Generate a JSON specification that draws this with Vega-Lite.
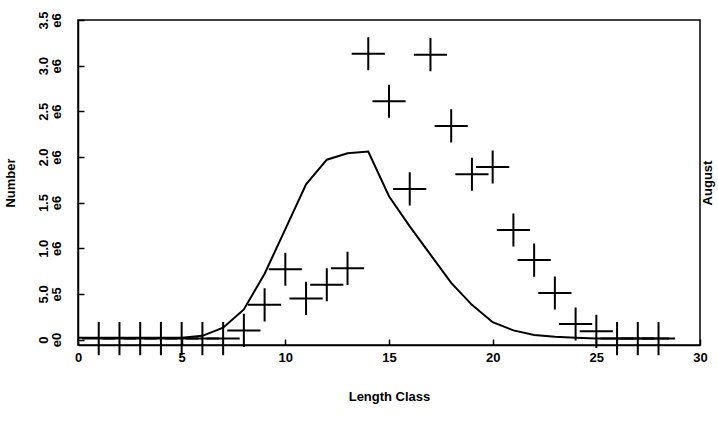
{
  "$schema": "https://vega.github.io/schema/vega-lite/v6.json",
  "width": 622,
  "height": 325,
  "autosize": {"type": "none"},
  "padding": {"left": 78, "top": 20, "right": 18, "bottom": 87},
  "background": "white",
  "config": {
    "view": {"stroke": "black", "strokeWidth": 1.5},
    "font": "Liberation Sans",
    "axis": {"grid": false, "domainColor": "black", "domainWidth": 1.5, "tickColor": "black", "tickWidth": 1.5, "labelColor": "black", "titleColor": "black", "labelFont": "Liberation Sans", "titleFont": "Liberation Sans", "labelFontWeight": "bold", "titleFontWeight": "bold"}
  },
  "datasets": {
    "obs": [
      {"x": 1, "y": 10000}, {"x": 2, "y": 10000}, {"x": 3, "y": 10000}, {"x": 4, "y": 10000},
      {"x": 5, "y": 10000}, {"x": 6, "y": 10000}, {"x": 7, "y": 10000},
      {"x": 8, "y": 100000}, {"x": 9, "y": 380000}, {"x": 10, "y": 770000}, {"x": 11, "y": 450000},
      {"x": 12, "y": 600000}, {"x": 13, "y": 780000}, {"x": 14, "y": 3130000}, {"x": 15, "y": 2610000},
      {"x": 16, "y": 1650000}, {"x": 17, "y": 3120000}, {"x": 18, "y": 2340000}, {"x": 19, "y": 1810000},
      {"x": 20, "y": 1890000}, {"x": 21, "y": 1200000}, {"x": 22, "y": 870000}, {"x": 23, "y": 510000},
      {"x": 24, "y": 170000}, {"x": 25, "y": 90000}, {"x": 26, "y": 10000}, {"x": 27, "y": 10000}, {"x": 28, "y": 10000}
    ],
    "curve": [
      {"x": 0, "y": 20000}, {"x": 1, "y": 20000}, {"x": 2, "y": 20000}, {"x": 3, "y": 20000},
      {"x": 4, "y": 20000}, {"x": 5, "y": 20000}, {"x": 6, "y": 40000}, {"x": 7, "y": 130000},
      {"x": 8, "y": 330000}, {"x": 9, "y": 720000}, {"x": 10, "y": 1210000}, {"x": 11, "y": 1700000},
      {"x": 12, "y": 1970000}, {"x": 13, "y": 2040000}, {"x": 14, "y": 2060000}, {"x": 15, "y": 1570000},
      {"x": 16, "y": 1240000}, {"x": 17, "y": 930000}, {"x": 18, "y": 620000}, {"x": 19, "y": 380000},
      {"x": 20, "y": 190000}, {"x": 21, "y": 100000}, {"x": 22, "y": 50000}, {"x": 23, "y": 30000},
      {"x": 24, "y": 20000}, {"x": 25, "y": 10000}, {"x": 26, "y": 10000}, {"x": 27, "y": 10000}, {"x": 28.5, "y": 10000}
    ]
  },
  "layer": [
    {
      "data": {"name": "curve"},
      "mark": {"type": "line", "color": "black", "strokeWidth": 2},
      "encoding": {
        "x": {"field": "x", "type": "quantitative", "scale": {"domain": [0, 30], "nice": false},
          "axis": {"title": "Length Class", "values": [0, 5, 10, 15, 20, 25, 30], "tickSize": -6, "labelPadding": 12, "labelFontSize": 13, "titleFontSize": 13, "titlePadding": 26, "labelFlush": false}},
        "y": {"field": "y", "type": "quantitative", "scale": {"domain": [-60000, 3500000], "nice": false, "zero": false},
          "axis": {"title": "Number", "values": [0, 500000, 1000000, 1500000, 2000000, 2500000, 3000000, 3500000],
            "labelExpr": "datum.value == 0 ? ['0', 'e0'] : (datum.value < 1000000 ? [format(datum.value / 100000, '.1f'), 'e5'] : [format(datum.value / 1000000, '.1f'), 'e6'])",
            "labelAngle": -90, "labelAlign": "center", "labelBaseline": "bottom", "labelLineHeight": 13, "labelFontSize": 13,
            "tickSize": -6, "labelPadding": 34, "titleFontSize": 13, "titlePadding": 20, "labelFlush": false}}
      }
    },
    {
      "data": {"name": "obs"},
      "mark": {"type": "point", "shape": "M-1,0H1M0,-1V1", "size": 1100, "stroke": "black", "strokeWidth": 2, "filled": false, "opacity": 1},
      "encoding": {
        "x": {"field": "x", "type": "quantitative"},
        "y": {"field": "y", "type": "quantitative", "axis": {"orient": "right", "title": "August", "labels": false, "ticks": false, "domain": false, "titleAngle": -90, "titleBaseline": "top", "titleFontSize": 13, "titlePadding": 1}}
      }
    }
  ],
  "resolve": {"axis": {"y": "independent"}}
}
